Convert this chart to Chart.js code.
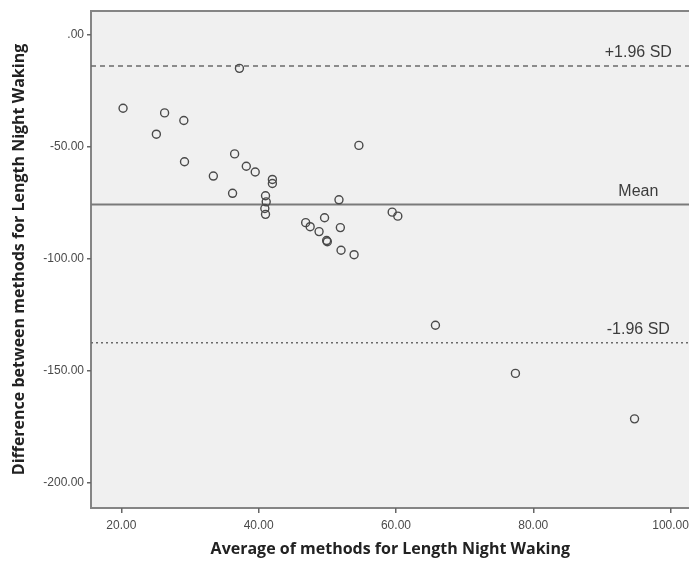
<!DOCTYPE html>
<html>
<head>
<meta charset="utf-8">
<script src="https://cdn.jsdelivr.net/npm/chart.js@4"></script>
<style>
  html, body { margin: 0; padding: 0; background: #fff; overflow: hidden; }
  /* a little wider than the window: the last tick label pads the right side,
     and the plot area should run to the window edge */
  #wrap { width: 695px; height: 563px; position: relative; }
</style>
</head>
<body>
<div id="wrap"><canvas id="baChart"></canvas></div>
<script>
// Bland-Altman data
const avgValues = [20.25, 26.3, 29.1, 25.1, 37.2, 29.2, 36.5, 38.2, 39.5, 33.4,
    42.0, 42.0, 36.2, 54.6, 41.0, 41.1, 40.9, 41.0, 51.7, 59.45,
    60.27, 46.85, 47.5, 49.6, 48.8, 51.9, 49.9, 50.0, 52.0, 53.9,
    65.75, 77.4, 94.75];
const diffValues = [-32.7, -34.8, -38.2, -44.3, -14.9, -56.6, -53.1, -58.6, -61.2, -63.0,
    -64.5, -66.3, -70.7, -49.3, -71.8, -74.5, -77.5, -80.1, -73.6, -79.1,
    -80.9, -83.8, -85.6, -81.6, -87.8, -86.0, -91.8, -92.3, -96.1, -98.1,
    -129.6, -151.1, -171.4];

const refLabels = ['+1.96 SD', 'Mean', '-1.96 SD'];
const refValues = [-13.85, -75.65, -137.4];

const xTicks = [20, 40, 60, 80, 100];
const xTickLabels = ['20.00', '40.00', '60.00', '80.00', '100.00'];
const yTicks = [0, -50, -100, -150, -200];
const yTickLabels = ['.00', '-50.00', '-100.00', '-150.00', '-200.00'];

const X_MIN = 15.58, X_MAX = 102.77;
const Y_MIN = -211.2, Y_MAX = 10.7;

const tickFont = { family: "'Liberation Sans', Arial, sans-serif", size: 12 };
const titleFont = { family: "'Open Sans', 'DejaVu Sans', sans-serif", size: 16, weight: 'bold' };

// reference lines as two-point line datasets
const refStyles = [
    { dash: [5, 4], width: 1.5, color: '#6a6a6a' },
    { dash: [], width: 2, color: '#7a7a7a' },
    { dash: [2, 3], width: 1.5, color: '#6a6a6a' }
];
const refDatasets = refValues.map((v, i) => ({
    type: 'line',
    label: refLabels[i],
    data: [{ x: X_MIN, y: v }, { x: X_MAX, y: v }],
    borderColor: refStyles[i].color,
    borderWidth: refStyles[i].width,
    borderDash: refStyles[i].dash,
    pointRadius: 0,
    fill: false
}));

// plot background + frame
const plotFrame = {
    id: 'plotFrame',
    beforeDraw(chart) {
        const { ctx, chartArea: a } = chart;
        ctx.save();
        ctx.fillStyle = '#f0f0f0';
        ctx.fillRect(a.left, a.top, a.right - a.left, a.bottom - a.top);
        ctx.strokeStyle = '#858585';
        ctx.lineWidth = 2;
        ctx.beginPath();
        ctx.moveTo(a.right + 2, a.top);
        ctx.lineTo(a.left, a.top);
        ctx.lineTo(a.left, a.bottom);
        ctx.lineTo(a.right + 2, a.bottom);
        ctx.stroke();
        ctx.restore();
    }
};

// text labels above the reference lines
const refText = {
    id: 'refText',
    afterDatasetsDraw(chart) {
        const { ctx, scales: { x, y } } = chart;
        ctx.save();
        ctx.font = "16px 'Liberation Sans', Arial, sans-serif";
        ctx.fillStyle = '#3c3c3c';
        ctx.textAlign = 'center';
        ctx.textBaseline = 'bottom';
        refValues.forEach((v, i) => {
            ctx.fillText(refLabels[i], x.getPixelForValue(95.3), y.getPixelForValue(v) - 5);
        });
        ctx.restore();
    }
};

new Chart(document.getElementById('baChart'), {
    type: 'scatter',
    data: {
        datasets: [{
            label: 'Difference',
            data: avgValues.map((a, i) => ({ x: a, y: diffValues[i] })),
            pointRadius: 4,
            pointHoverRadius: 4,
            pointBorderWidth: 1.4,
            pointBorderColor: '#4a4a4a',
            pointBackgroundColor: 'rgba(0,0,0,0)'
        }, ...refDatasets]
    },
    options: {
        responsive: true,
        maintainAspectRatio: false,
        animation: false,
        layout: { padding: { top: 11, right: 0, left: 0, bottom: 0 } },
        plugins: { legend: { display: false }, tooltip: { enabled: false } },
        scales: {
            x: {
                type: 'linear',
                min: X_MIN,
                max: X_MAX,
                afterBuildTicks: s => { s.ticks = xTicks.map(v => ({ value: v })); },
                afterFit: s => { s.height = 55; },
                border: { display: false },
                grid: { drawOnChartArea: false, drawTicks: true, tickLength: 5, color: '#666', lineWidth: 1.5 },
                ticks: {
                    font: tickFont,
                    color: '#4a4a4a',
                    padding: 5,
                    maxRotation: 0,
                    autoSkip: false,
                    callback: v => xTickLabels[xTicks.indexOf(v)]
                },
                title: {
                    display: true,
                    text: 'Average of methods for Length Night Waking',
                    font: titleFont,
                    color: '#222',
                    padding: { top: 0, bottom: 4 }
                }
            },
            y: {
                type: 'linear',
                min: Y_MIN,
                max: Y_MAX,
                afterBuildTicks: s => { s.ticks = yTicks.map(v => ({ value: v })); },
                afterFit: s => { s.width = 91; },
                border: { display: false },
                grid: { drawOnChartArea: false, drawTicks: true, tickLength: 4, color: '#666', lineWidth: 1.5 },
                ticks: {
                    font: tickFont,
                    color: '#4a4a4a',
                    padding: 3,
                    autoSkip: false,
                    callback: v => yTickLabels[yTicks.indexOf(v)]
                },
                title: {
                    display: true,
                    text: 'Difference between methods for Length Night Waking',
                    font: titleFont,
                    color: '#222',
                    padding: { top: 10, bottom: 0 }
                }
            }
        }
    },
    plugins: [plotFrame, refText]
});
</script>
</body>
</html>
